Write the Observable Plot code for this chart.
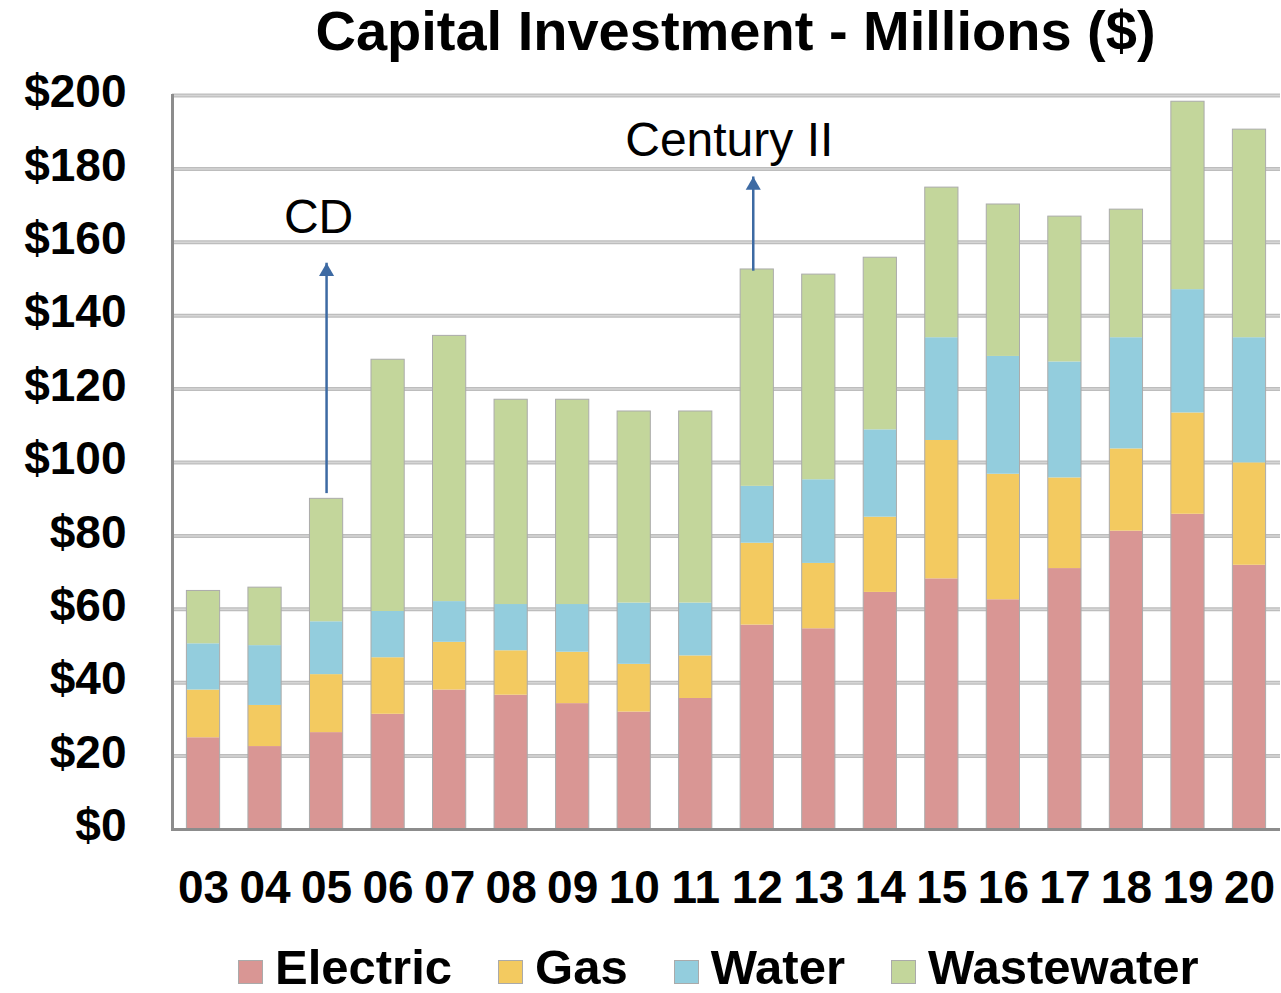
<!DOCTYPE html>
<html>
<head>
<meta charset="utf-8">
<script src="https://cdn.jsdelivr.net/npm/d3@7"></script>
<script src="https://cdn.jsdelivr.net/npm/@observablehq/plot@0.6"></script>
<style>
  html, body { margin: 0; padding: 0; background: #fff; }
  #wrap { position: relative; width: 1281px; height: 993px; font-family: "Liberation Sans", Arial, sans-serif; }
  #title { position: absolute; z-index: 2; top: 3px; left: 0; width: 1281px; box-sizing: border-box; padding-left: 190px; text-align: center; font-size: 56px; font-weight: bold; line-height: 56px; color: #000; white-space: nowrap; }
  #chart { position: absolute; z-index: 1; top: 0; left: 0; }
  #legend { position: absolute; z-index: 2; top: 943px; left: 238px; display: flex; align-items: center; font-size: 49px; font-weight: bold; line-height: 49px; color: #000; white-space: nowrap; }
  .item { display: inline-flex; align-items: center; margin-right: 46px; }
  .sw { width: 25px; height: 24px; box-sizing: border-box; border: 1px solid #aaa; margin-right: 12px; position: relative; top: 4px; }
</style>
</head>
<body>
<div id="wrap">
  <div id="chart"></div>
  <div id="title"></div>
  <div id="legend"></div>
</div>
<script>
const titleText = "Capital Investment - Millions ($)";
const years = ["03","04","05","06","07","08","09","10","11","12","13","14","15","16","17","18","19","20"];
const series = ["Electric", "Gas", "Water", "Wastewater"];
const electric   = [25.0, 22.6, 26.4, 31.4, 38.0, 36.6, 34.3, 32.0, 35.7, 55.7, 54.7, 64.6, 68.3, 62.6, 71.1, 81.3, 85.9, 72.0];
const gas        = [13.0, 11.2, 15.8, 15.4, 13.0, 12.1, 14.0, 13.0, 11.6, 22.3, 17.8, 20.5, 37.7, 34.2, 24.7, 22.4, 27.6, 27.9];
const water      = [12.6, 16.3, 14.4, 12.6, 11.1, 12.6, 13.0, 16.7, 14.4, 15.5, 22.8, 23.8, 28.0, 32.1, 31.6, 30.3, 33.6, 34.1];
const wastewater = [14.4, 15.8, 33.5, 68.6, 72.4, 55.8, 55.8, 52.2, 52.2, 59.1, 55.9, 46.9, 40.9, 41.4, 39.6, 34.9, 51.2, 56.7];
const colors = ["#D99694", "#F3CA60", "#93CDDD", "#C3D69B"];
const yTicks = [0, 20, 40, 60, 80, 100, 120, 140, 160, 180, 200];

// annotations
const annoLabels = ["CD", "Century II"];
const annoYears = ["05", "12"];
const annoLabelY = [166.7, 187.6];
const annoArrowFrom = [93.7, 154.3];
const annoArrowTo = [154.3, 177.8];

const seriesValues = [electric, gas, water, wastewater];
const tidy = years.flatMap((yr, i) => series.map((s, j) => ({year: yr, series: s, value: seriesValues[j][i]})));
const totals = years.map((yr, i) => d3.sum(seriesValues, v => v[i]));
const anno = annoLabels.map((t, i) => ({label: t, year: annoYears[i], ly: annoLabelY[i], y1: annoArrowFrom[i], y2: annoArrowTo[i]}));

document.getElementById("title").textContent = titleText;

const arrowColor = "#3D6AA3";
const labelDx = [-8, -28];
const arrowDx = [0, -4];

const plot = Plot.plot({
  width: 1281,
  height: 910,
  marginLeft: 172,
  marginRight: 1,
  marginTop: 95,
  marginBottom: 81,
  style: {fontFamily: "Liberation Sans, Arial, sans-serif", fontSize: "46px", fontWeight: "bold", color: "#000", background: "transparent", overflow: "visible"},
  x: {type: "band", domain: years, paddingInner: 0.46, paddingOuter: 0.234, align: 0.5, round: false, axis: null},
  y: {domain: [0, 200], axis: null},
  color: {domain: series, range: colors},
  marks: [
    Plot.ruleY(yTicks.slice(1), {stroke: "#bdbdbd", strokeWidth: 4}),
    Plot.ruleY(yTicks.slice(1), {stroke: "#d6d6d6", strokeWidth: 1.5}),
    Plot.barY(tidy, {x: "year", y: "value", fill: "series"}),
    Plot.barY(years, {x: d => d, y: (d, i) => totals[i], fill: "none", stroke: "#ababab", strokeWidth: 1}),
    Plot.frame({anchor: "left", stroke: "#8c8c8c", strokeWidth: 3}),
    Plot.ruleY([0], {stroke: "#8c8c8c", strokeWidth: 3}),
    Plot.axisY({ticks: yTicks, tickFormat: d => "$" + d, tickSize: 0, tickPadding: 46, dy: -3, fontSize: 46, fontWeight: "bold", label: null}),
    Plot.axisX({tickSize: 0, tickPadding: 41, fontSize: 46, fontWeight: "bold", label: null}),
    ...anno.map((a, i) => Plot.ruleX([a], {x: "year", y1: "y1", y2: "y2", stroke: arrowColor, strokeWidth: 2.5, insetTop: 8, dx: arrowDx[i]})),
    ...anno.map((a, i) => Plot.dot([a], {x: "year", y: "y2", symbol: "triangle", r: 5.6, fill: arrowColor, stroke: "none", dy: 8.5, dx: arrowDx[i]})),
    ...anno.map((a, i) => Plot.text([a], {x: "year", y: "ly", text: "label", fontSize: 48, fontWeight: "normal", fill: "#000", textAnchor: "middle", dx: labelDx[i]}))
  ]
});
document.getElementById("chart").appendChild(plot);

const legend = d3.select("#legend");
series.forEach((s, i) => {
  const item = legend.append("span").attr("class", "item");
  item.append("span").attr("class", "sw").style("background", colors[i]);
  item.append("span").text(s);
});
</script>
</body>
</html>
